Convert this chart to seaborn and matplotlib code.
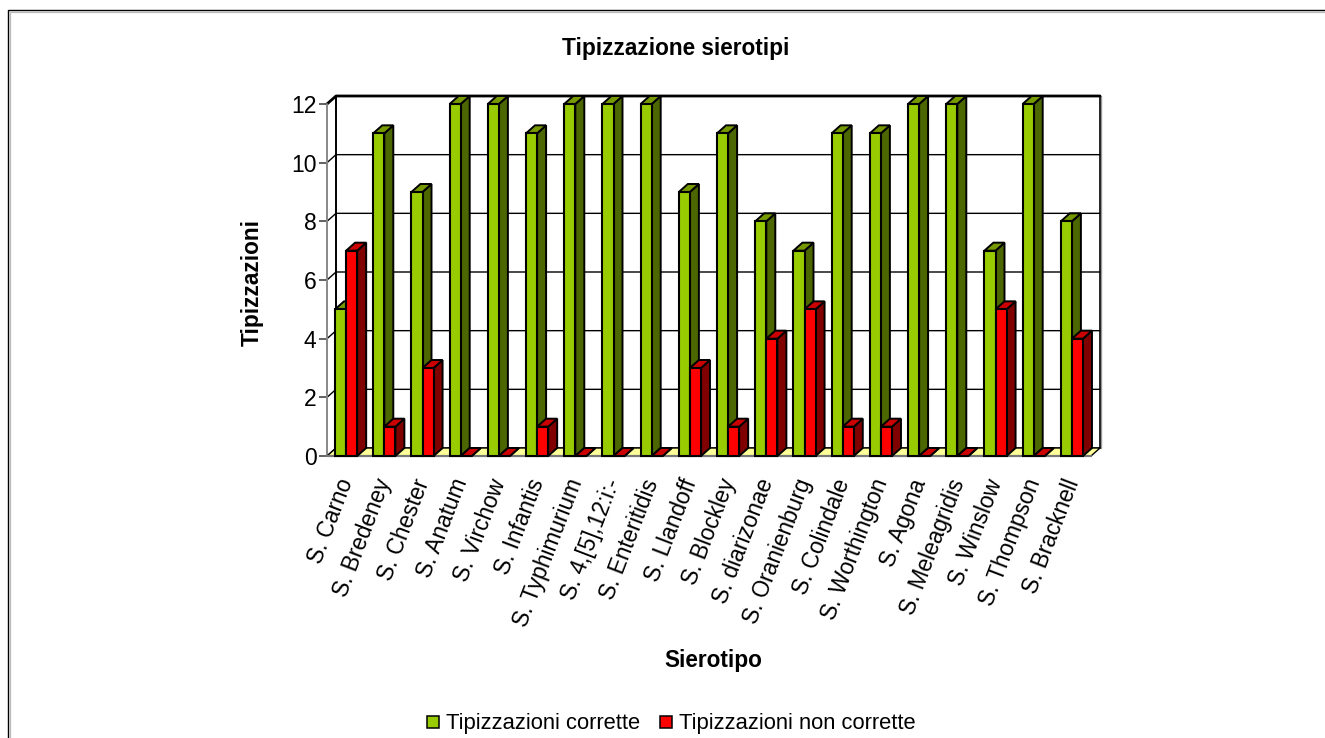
import matplotlib
matplotlib.use("Agg")
import matplotlib.pyplot as plt
import pandas as pd
import seaborn as sns
from matplotlib.lines import Line2D
from matplotlib.patches import Polygon
from matplotlib.transforms import ScaledTranslation

categories = ["S. Carno", "S. Bredeney", "S. Chester", "S. Anatum", "S. Virchow",
              "S. Infantis", "S. Typhimurium", "S. 4,[5],12:i:-", "S. Enteritidis",
              "S. Llandoff", "S. Blockley", "S. diarizonae", "S. Oranienburg",
              "S. Colindale", "S. Worthington", "S. Agona", "S. Meleagridis",
              "S. Winslow", "S. Thompson", "S. Bracknell"]
corrette = [5, 11, 9, 12, 12, 11, 12, 12, 12, 9, 11, 8, 7, 11, 11, 12, 12, 7, 12, 8]
non_corrette = [7, 1, 3, 0, 0, 1, 0, 0, 0, 3, 1, 4, 5, 1, 1, 0, 0, 5, 0, 4]
series_names = ["Tipizzazioni corrette", "Tipizzazioni non corrette"]
yticks = [0, 2, 4, 6, 8, 10, 12]

FRONT = ["#99CC00", "#FF0000"]
TOP = ["#779900", "#CC0000"]
SIDE = ["#4C6600", "#800000"]
FLOOR = "#FFFF99"

W, H = 1325, 738
sns.set_theme(style="white", rc={"font.family": ["Liberation Sans", "DejaVu Sans"]})
plt.rcParams["font.family"] = ["Liberation Sans", "DejaVu Sans"]

fig = plt.figure(figsize=(W / 100, H / 100), dpi=100, facecolor="white")
ax = fig.add_axes([327 / W, 1 - 456 / H, 764 / W, 352 / H])
ax.patch.set_alpha(0)

df = pd.DataFrame({
    "Sierotipo": categories * 2,
    "Serie": [series_names[0]] * len(categories) + [series_names[1]] * len(categories),
    "Tipizzazioni": corrette + non_corrette,
})
sns.barplot(data=df, x="Sierotipo", y="Tipizzazioni", hue="Serie", hue_order=series_names,
            palette=FRONT, width=0.58, gap=0, dodge=True, legend=False, saturation=1,
            edgecolor="black", linewidth=1.5, ax=ax)
ax.set_xlim(-0.5, len(categories) - 0.5)
ax.set_ylim(0, 12)

# depth of the pseudo-3D box, in data units
DX = 9 / (764 / 20)
DY = 8 / (352 / 12)
x0, x1 = -0.5, len(categories) - 0.5
LW = 1.4

# back wall and left wall
ax.add_patch(Polygon([(x0, 0), (x0 + DX, DY), (x0 + DX, 12 + DY), (x0, 12)], closed=True,
                     fc="white", ec="none", clip_on=False, zorder=0.5))
for v in yticks:
    ax.plot([x0, x0 + DX, x1 + DX], [v, v + DY, v + DY], color="black",
            lw=2.0 if v == 12 else 1.0, clip_on=False, zorder=0.8)
ax.plot([x0 + DX, x0 + DX], [DY, 12 + DY], color="black", lw=1.4, clip_on=False, zorder=0.8)
ax.plot([x0, x0], [0, 12], color="#888888", lw=1.4, clip_on=False, zorder=0.8)
ax.plot([x1 + DX, x1 + DX], [DY, 12 + DY], color="black", lw=1.2, clip_on=False, zorder=0.8)
ax.plot([x1 + DX + 0.03, x1 + DX + 0.03], [DY, 12 + DY], color="#999999", lw=1.0, clip_on=False, zorder=0.7)

# floor
ax.add_patch(Polygon([(x0, 0), (x0 + DX, DY), (x1 + DX, DY), (x1, 0)], closed=True,
                     fc=FLOOR, ec="none", clip_on=False, zorder=0.9))
ax.plot([x0 + DX, x1 + DX, x1], [DY, DY, 0], color="black", lw=1.0, clip_on=False, zorder=0.95)
ax.plot([x0, x0 + DX], [0, DY], color="black", lw=1.0, clip_on=False, zorder=0.95)

# sides and tops of the bars
for s, container in enumerate(ax.containers):
    for i, bar in enumerate(container):
        l, w, h = bar.get_x(), bar.get_width(), bar.get_height()
        z = 2 + i + s * 0.3
        bar.set_zorder(z + 0.02)
        bar.set_clip_on(False)
        ax.add_patch(Polygon([(l + w, 0), (l + w + DX, DY), (l + w + DX, h + DY), (l + w, h)],
                             closed=True, fc=SIDE[s], ec="black", lw=LW, clip_on=False, zorder=z))
        ax.add_patch(Polygon([(l, h), (l + DX, h + DY), (l + w + DX, h + DY), (l + w, h)],
                             closed=True, fc=TOP[s], ec="black", lw=LW, clip_on=False, zorder=z + 0.01))

ax.plot([x0, x1], [0, 0], color="#777777", lw=1.6, clip_on=False, zorder=1.0)

for sp in ax.spines.values():
    sp.set_visible(False)
ax.set_yticks(yticks)
ax.set_yticklabels([str(v) for v in yticks], fontsize=16.5, color="black")
ax.tick_params(axis="y", length=6, width=1.3, color="#555555", pad=1.5, left=True)
ax.tick_params(axis="x", length=0, pad=17)
ax.set_xticks(range(len(categories)))
ax.set_xticklabels(categories, rotation=69, ha="right", va="center", rotation_mode="anchor",
                   fontsize=16.3, color="black")
shift = ScaledTranslation(1 / 100, 0, fig.dpi_scale_trans)
for lab in ax.get_xticklabels():
    lab.set_transform(lab.get_transform() + shift)
ax.set_xlabel("")
ax.set_ylabel("")

BOLD = 16.3
fig.text(676 / W, 1 - 49 / H, "Tipizzazione sierotipi", ha="center", va="center",
         fontsize=BOLD, fontweight="bold", color="black")
fig.text(713 / W, 1 - 661 / H, "Sierotipo", ha="center", va="center",
         fontsize=BOLD, fontweight="bold", color="black")
fig.text(252 / W, 1 - 283 / H, "Tipizzazioni", ha="center", va="center", rotation=90,
         fontsize=BOLD, fontweight="bold", color="black")

handles = [Line2D([], [], ls="none", marker="s", ms=8, mfc=c, mec="black", mew=1.1, label=n)
           for c, n in zip(FRONT, series_names)]
fig.legend(handles=handles, loc="center", bbox_to_anchor=(671 / W, 1 - 724 / H), ncol=2,
           frameon=False, fontsize=15.8, handlelength=0.6, handletextpad=0.3,
           columnspacing=0.9, labelcolor="black", borderpad=0)

# outer chart frame: left and top only, cut by the image edges, with a soft inner shadow
fig.add_artist(Line2D([9.5 / W, 9.5 / W, 1], [0, 1 - 11.5 / H, 1 - 11.5 / H], color="#BBBBBB", lw=0.9))
fig.add_artist(Line2D([8 / W, 8 / W, 1], [0, 1 - 10 / H, 1 - 10 / H], color="black", lw=1.0))

fig.savefig("out.png", dpi=100, facecolor="white")
